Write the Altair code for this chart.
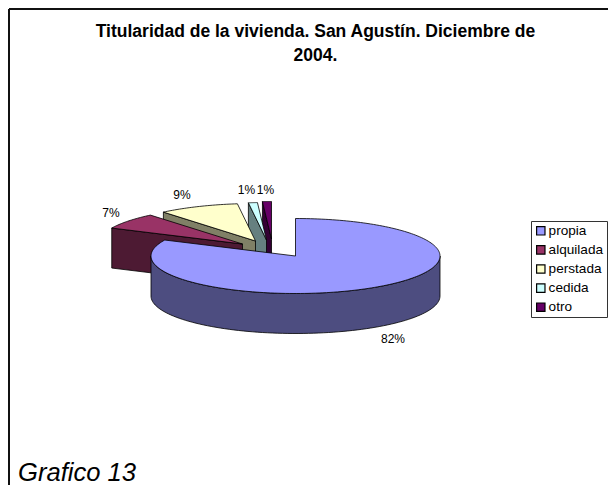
import numpy as np
import pandas as pd
import altair as alt

categories = ["propia", "alquilada", "perstada", "cedida", "otro"]
shares = [82, 7, 9, 1, 1]
top_colors = ["#9999FF", "#993366", "#FFFFCC", "#CCFFFF", "#660066"]
side_colors = ["#4D4D80", "#4D1A33", "#808066", "#668080", "#330033"]
labels = ["82%", "7%", "9%", "1%", "1%"]
title_lines = ["Titularidad de la vivienda. San Agustín. Diciembre de", "2004."]
caption = "Grafico 13"

# layout of the drawing (page pixels); the canvas spans 8..608 x 8..485
L, T, R, B = 8, 8, 608, 485
CX, CY, RX, RY, DEPTH = 295.5, 256.0, 144.5, 37.5, 40.0
explode = [(0, 0), (-53, -12), (-40, -15), (-29, -16), (-24, -17)]
label_xy = [(393, 339), (111, 213), (182, 195), (246.5, 190), (265.5, 190)]

x_scale = alt.Scale(domain=[L, R], range=[0, R - L], nice=False, zero=False)
y_scale = alt.Scale(domain=[T, B], range=[0, B - T], nice=False, zero=False)
X = lambda f="x": alt.X(f"{f}:Q", scale=x_scale, axis=None)
Y = lambda f="y": alt.Y(f"{f}:Q", scale=y_scale, axis=None)


def point(deg, dx=0.0, dy=0.0, drop=0.0):
    a = np.radians(deg)
    return CX + dx + RX * np.sin(a), CY + dy - RY * np.cos(a) + drop


def polygon(points, fill):
    points = list(points) + [points[0]]
    df = pd.DataFrame(points, columns=["x", "y"]).reset_index(names="o")
    return alt.Chart(df).mark_line(
        fill=fill, stroke="#000000", strokeWidth=0.8, strokeJoin="round", clip=False
    ).encode(x=X(), y=Y(), order="o:Q")


edges = np.concatenate([[0], np.cumsum(shares)]) * 360.0 / sum(shares)
layers = []

# legend carrier
legend_df = pd.DataFrame({"cat": categories, "x": [CX] * 5, "y": [CY] * 5})
layers.append(
    alt.Chart(legend_df).mark_point(size=0, filled=True, opacity=0).encode(
        x=X(), y=Y(),
        fill=alt.Fill(
            "cat:N",
            scale=alt.Scale(domain=categories, range=top_colors),
            legend=alt.Legend(
                title=None, orient="none", legendX=523, legendY=213,
                symbolType="square", symbolSize=70, symbolStrokeColor="#000000",
                symbolStrokeWidth=1.2, symbolOpacity=1, labelFont="Liberation Sans",
                labelFontSize=13.6, labelColor="#000000", rowPadding=4.1,
                labelOffset=1, padding=3, strokeColor="#333333", fillColor="#FFFFFF",
                symbolOffset=0,
            ),
        ),
    )
)

# exploded slices, back to front
for i in [4, 3, 2, 1]:
    a0, a1 = edges[i], edges[i + 1]
    dx, dy = explode[i]
    apex = (CX + dx, CY + dy)
    o = point(a0, dx, dy)
    layers.append(polygon([apex, o, (o[0], o[1] + DEPTH), (apex[0], apex[1] + DEPTH)], side_colors[i]))
    arc = [point(t, dx, dy) for t in np.linspace(a0, a1, 30)]
    layers.append(polygon([apex] + arc, top_colors[i]))

# main slice
t = np.linspace(90, 270, 90)
rim = [point(v) for v in t]
rim_low = [point(v, drop=DEPTH) for v in t[::-1]]
layers.append(polygon(rim + rim_low, side_colors[0]))
arc = [point(v) for v in np.linspace(edges[0], edges[1], 200)]
layers.append(polygon([(CX, CY)] + arc, top_colors[0]))

# percentage labels
lab = pd.DataFrame({"t": labels, "x": [p[0] for p in label_xy], "y": [p[1] for p in label_xy]})
layers.append(
    alt.Chart(lab).mark_text(font="Liberation Sans", fontSize=12, color="#000000",
                             align="center", baseline="middle").encode(x=X(), y=Y(), text="t:N")
)

# title
tit = pd.DataFrame({"t": title_lines, "x": [315.5, 315.5], "y": [32, 56]})
layers.append(
    alt.Chart(tit).mark_text(font="Liberation Sans", fontSize=17.5, fontWeight="bold", color="#000000",
                             align="center", baseline="middle").encode(x=X(), y=Y(), text="t:N")
)

# caption
cap = pd.DataFrame({"t": [caption], "x": [18], "y": [480.5]})
layers.append(
    alt.Chart(cap).mark_text(font="Liberation Sans", fontSize=25.6, fontStyle="italic", color="#000000",
                             align="left", baseline="alphabetic").encode(x=X(), y=Y(), text="t:N")
)

# page frame
frame = pd.DataFrame({"x": [9, 9], "x2": [9, R], "y": [9, 9], "y2": [B, 9]})
layers.append(
    alt.Chart(frame).mark_rule(strokeWidth=2, color="#111111").encode(
        x=X(), x2="x2:Q", y=Y(), y2="y2:Q",
    )
)

chart = alt.layer(*layers).properties(
    width=R - L, height=B - T, padding=0,
    autosize=alt.AutoSizeParams(type="none"),
    background="#FFFFFF",
).configure_view(stroke=None)

chart.save("out.html", embed_options={"renderer": "svg", "actions": False})
